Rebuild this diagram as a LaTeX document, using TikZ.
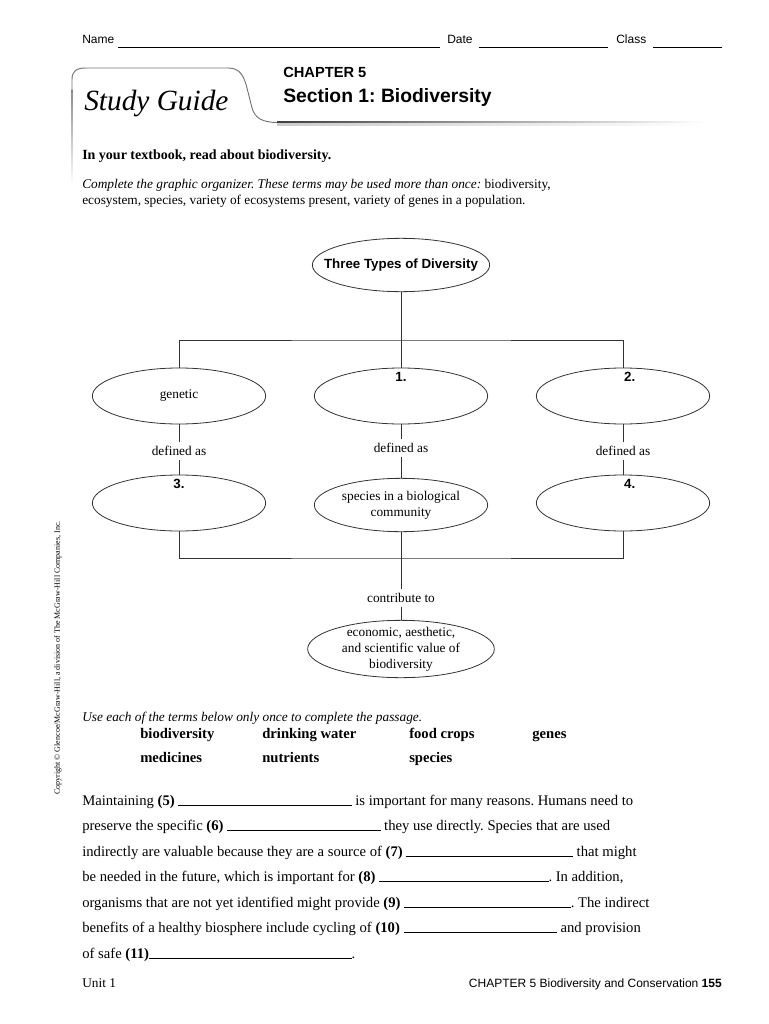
\documentclass[tikz,border=0pt]{standalone}
\usepackage{fontspec}
\setmainfont{Liberation Serif}
\setsansfont{Liberation Sans}
\usetikzlibrary{shapes.geometric}
\frenchspacing

\tikzset{
  kind/.style={draw=black!80, line width=0.6pt, ellipse, minimum width=130pt, minimum height=42pt, inner sep=0pt},
  kindtext/.style={align=center, font=\fontsize{10}{12}\selectfont, inner sep=0pt},
  num/.style={font=\sffamily\bfseries\fontsize{10}{12}\selectfont, inner sep=0pt, anchor=north, yshift=-3pt},
  linklabel/.style={font=\fontsize{10}{12}\selectfont, inner sep=3pt},
  link/.style={draw=black!80, line width=0.6pt},
  form/.style={font=\sffamily\fontsize{9}{11}\selectfont, anchor=base west, inner sep=0pt},
  passage/.style={font=\fontsize{11}{13}\selectfont, anchor=base west, inner sep=0pt},
  term/.style={font=\bfseries\fontsize{11}{13}\selectfont, anchor=base west, inner sep=0pt}
}
\newcommand{\blank}[1]{\rule[-0.8pt]{#1}{0.6pt}}

\begin{document}
\begin{tikzpicture}[x=0.75pt,y=-0.75pt]
\useasboundingbox (0,0) rectangle (768,1024);

% ---- name / date / class line
\node[form] (name) at (82,44) {Name};
\node[form] (date) at (447,44) {Date};
\node[form] (class) at (616,44) {Class};
\draw[line width=0.6pt] (118,47) -- (440,47) (479,47) -- (608,47) (653,47) -- (722,47);

% ---- study guide tab
\shade[top color=black!45, bottom color=white] (71.6,90) rectangle (72.4,185);
\draw[black!55, line width=0.7pt] (72,92) -- (72,80) .. controls (72,71) and (76,68) .. (86,68) -- (228,68)
  .. controls (240,68) and (244,76) .. (247,88) -- (252,108) .. controls (255,118) and (262,122.5) .. (278,122.5);
\shade[left color=black!75, right color=white] (277,121.8) rectangle (705,123.4);
\shade[left color=black!20, right color=white] (277,123.4) rectangle (705,125.5);
\node[anchor=base west, inner sep=0pt, font=\itshape\fontsize{22}{26}\selectfont] (guide) at (84,110) {Study Guide};
\node[anchor=base west, inner sep=0pt, font=\sffamily\bfseries\fontsize{11}{13}\selectfont] (chapter) at (283,78) {CHAPTER 5};
\node[anchor=base west, inner sep=0pt, font=\sffamily\bfseries\fontsize{14.5}{17}\selectfont] (section) at (283,103) {Section 1: Biodiversity};

% ---- instructions
\node[anchor=base west, inner sep=0pt, font=\bfseries\fontsize{10.5}{12}\selectfont] (read) at (82,159) {In your textbook, read about biodiversity.};
\node[anchor=base west, inner sep=0pt, font=\fontsize{10}{12}\selectfont] (task1) at (82,188) {\textit{Complete the graphic organizer. These terms may be used more than once:} biodiversity,};
\node[anchor=base west, inner sep=0pt, font=\fontsize{10}{12}\selectfont] (task2) at (82,204) {ecosystem, species, variety of ecosystems present, variety of genes in a population.};

% ---- graphic organizer
\node[kind, minimum width=133pt, minimum height=40pt,
  label={[kindtext, font=\sffamily\bfseries\fontsize{10}{12}\selectfont]center:Three Types of Diversity}] (types) at (401,265) {};
\coordinate (split) at (401,340);

\node[kind, label={[kindtext]center:genetic}] (genetic) at (179,396) {};
\node[kind, label={[num]north:1.}] (species) at (401,396) {};
\node[kind, label={[num, xshift=5pt]north:2.}] (ecosystem) at (623,396) {};

\node[linklabel] (def1) at (179,451) {defined as};
\node[linklabel] (def2) at (401,448) {defined as};
\node[linklabel] (def3) at (623,451) {defined as};

\node[kind, label={[num]north:3.}] (genes) at (179,503) {};
\node[kind, minimum height=40pt, label={[kindtext]center:species in a biological\\community}] (community) at (401,505) {};
\node[kind, label={[num, xshift=5pt]north:4.}] (variety) at (623,503) {};

\coordinate (join) at (401,558);
\node[linklabel] (contrib) at (401,598) {contribute to};
\node[kind, minimum width=140pt, minimum height=43pt,
  label={[kindtext]center:economic, aesthetic,\\and scientific value of\\biodiversity}] (value) at (401,649) {};

\draw[link] (types) -- (split);
\draw[link] (genetic.north) |- (split) -| (ecosystem.north);
\draw[link] (split) -- (species.north);
\draw[link] (genetic) -- (def1) -- (genes);
\draw[link] (species) -- (def2) -- (community);
\draw[link] (ecosystem) -- (def3) -- (variety);
\draw[link] (genes.south) |- (join) -| (variety.south);
\draw[link] (community.south) -- (join);
\draw[link] (join) -- (contrib) -- (value);

% ---- word bank
\node[anchor=base west, inner sep=0pt, font=\itshape\fontsize{10}{12}\selectfont] (use) at (82,721) {Use each of the terms below only once to complete the passage.};
\node[term] (t1) at (140,738) {biodiversity};
\node[term] (t2) at (262,738) {drinking water};
\node[term] (t3) at (409,738) {food crops};
\node[term] (t4) at (532,738) {genes};
\node[term] (t5) at (140,762) {medicines};
\node[term] (t6) at (262,762) {nutrients};
\node[term] (t7) at (409,762) {species};

% ---- passage
\node[passage] (p1) at (82,805) {Maintaining \textbf{(5)} \blank{130pt} is important for many reasons. Humans need to};
\node[passage] (p2) at (82,830) {preserve the specific \textbf{(6)} \blank{115pt} they use directly. Species that are used};
\node[passage] (p3) at (82,856) {indirectly are valuable because they are a source of \textbf{(7)} \blank{125pt} that might};
\node[passage] (p4) at (82,881) {be needed in the future, which is important for \textbf{(8)} \blank{127pt}. In addition,};
\node[passage] (p5) at (82,907) {organisms that are not yet identified might provide \textbf{(9)} \blank{125pt}. The indirect};
\node[passage] (p6) at (82,932) {benefits of a healthy biosphere include cycling of \textbf{(10)} \blank{115pt} and provision};
\node[passage] (p7) at (82,958) {of safe \textbf{(11)}\blank{152pt}.};

% ---- copyright and footer
\node[rotate=90, inner sep=0pt, font=\fontsize{6}{7}\selectfont] (copyright) at (58,658) {Copyright \copyright{} Glencoe/McGraw-Hill, a division of The McGraw-Hill Companies, Inc.};
\node[anchor=base west, inner sep=0pt, font=\fontsize{10}{12}\selectfont] (unit) at (82,987) {Unit 1};
\node[anchor=base east, inner sep=0pt, font=\sffamily\fontsize{9}{11}\selectfont] (footer) at (722,987) {CHAPTER 5 Biodiversity and Conservation \textbf{155}};
\end{tikzpicture}
\end{document}
